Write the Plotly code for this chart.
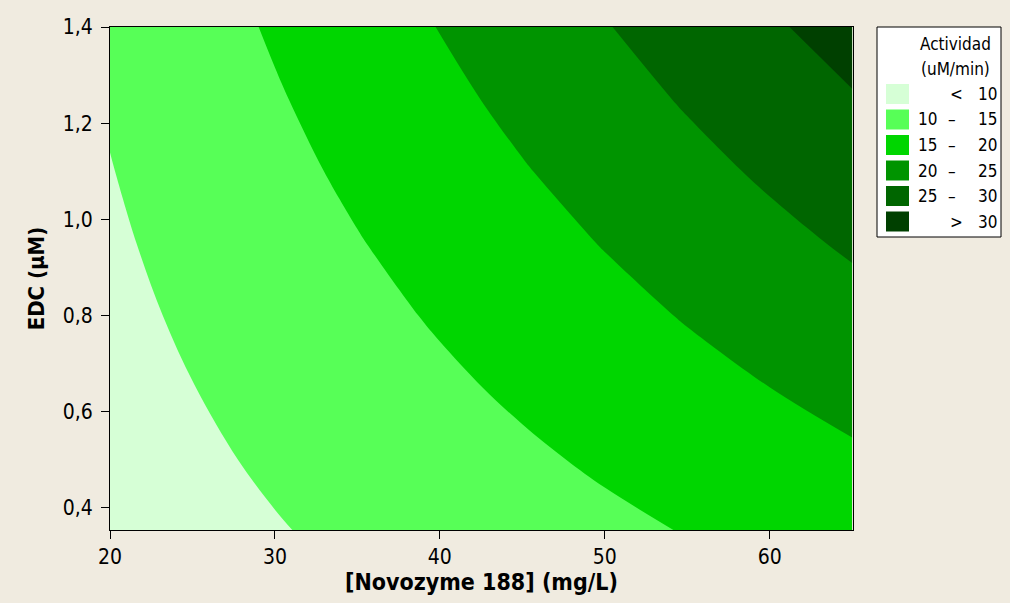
import plotly.graph_objects as go

# ---- data ----
novozyme = [20, 25, 30, 35, 40, 45, 50, 55, 60, 65]            # [Novozyme 188] (mg/L)
edc = [0.35, 0.5, 0.65, 0.8, 0.95, 1.1, 1.25, 1.4]              # EDC (uM)
actividad = [                                                   # Actividad (uM/min), rows = edc
    [7.59, 8.67, 9.75, 10.83, 11.90, 12.98, 14.06, 15.14, 16.22, 17.29],
    [8.05, 9.31, 10.56, 11.82, 13.08, 14.33, 15.59, 16.85, 18.11, 19.36],
    [8.51, 9.94, 11.38, 12.82, 14.25, 15.69, 17.12, 18.56, 19.99, 21.43],
    [8.97, 10.58, 12.20, 13.81, 15.42, 17.04, 18.65, 20.27, 21.88, 23.50],
    [9.42, 11.22, 13.01, 14.80, 16.60, 18.39, 20.18, 21.98, 23.77, 25.56],
    [9.88, 11.85, 13.83, 15.80, 17.77, 19.74, 21.72, 23.69, 25.66, 27.63],
    [10.34, 12.49, 14.64, 16.79, 18.94, 21.10, 23.25, 25.40, 27.55, 29.70],
    [10.80, 13.13, 15.46, 17.79, 20.12, 22.45, 24.78, 27.11, 29.44, 31.77],
]
contour_start, contour_end, contour_step = 10, 30, 5
band_colors = ["#D6FFD6", "#57FF57", "#00D600", "#009400", "#006600", "#004000"]
legend_low = ["", "10", "15", "20", "25", ""]
legend_sym = ["<", "\u2013", "\u2013", "\u2013", "\u2013", ">"]
legend_high = ["10", "15", "20", "25", "30", "30"]
x_ticks = [20, 30, 40, 50, 60]
y_ticks = [0.4, 0.6, 0.8, 1.0, 1.2, 1.4]

# ---- layout geometry ----
W, H = 1010, 603
ML, MR, MT, MB = 110, 157, 27, 73
PW, PH = W - ML - MR, H - MT - MB
BG = "#F0EBE0"
FONT = "Tahoma, 'DejaVu Sans Condensed', 'Liberation Sans', sans-serif"


def px(x):
    return (x - ML) / PW


def py(y):
    return (H - MB - y) / PH


n = len(band_colors)
colorscale = []
for i, c in enumerate(band_colors):
    colorscale.append([i / n, c])
    colorscale.append([(i + 1) / n, c])

fig = go.Figure(
    go.Contour(
        x=novozyme,
        y=edc,
        z=actividad,
        colorscale=colorscale,
        showscale=False,
        contours=dict(start=contour_start, end=contour_end, size=contour_step,
                      coloring="fill", showlines=False),
        line=dict(width=0),
        hoverinfo="x+y+z",
    )
)

LF = 17
shapes = [dict(type="rect", xref="paper", yref="paper",
               x0=px(877), x1=px(1001), y0=py(237), y1=py(27),
               fillcolor="white", line=dict(color="black", width=1))]
annotations = [
    dict(text="Actividad", x=px(955), y=py(44), xref="paper", yref="paper",
         showarrow=False, xanchor="center", yanchor="middle",
         font=dict(family=FONT, size=LF, color="black")),
    dict(text="(uM/min)", x=px(955), y=py(69), xref="paper", yref="paper",
         showarrow=False, xanchor="center", yanchor="middle",
         font=dict(family=FONT, size=LF, color="black")),
]
row0, pitch = 94, 25.5
for i, c in enumerate(band_colors):
    yc = row0 + i * pitch
    shapes.append(dict(type="rect", xref="paper", yref="paper",
                       x0=px(886), x1=px(909), y0=py(yc + 10), y1=py(yc - 10),
                       fillcolor=c, line=dict(width=0)))
    f = dict(family=FONT, size=LF, color="black")
    if legend_low[i]:
        annotations.append(dict(text=legend_low[i], x=px(939), y=py(yc), xref="paper", yref="paper",
                                showarrow=False, xanchor="right", yanchor="middle", font=f))
    annotations.append(dict(text=legend_sym[i], x=px(952 if legend_low[i] else 957), y=py(yc),
                            xref="paper", yref="paper", showarrow=False,
                            xanchor="center", yanchor="middle", font=f))
    annotations.append(dict(text=legend_high[i], x=px(999), y=py(yc), xref="paper", yref="paper",
                            showarrow=False, xanchor="right", yanchor="middle", font=f))

axis_common = dict(showline=True, linecolor="black", linewidth=1, mirror=True,
                   ticks="outside", ticklen=8, tickcolor="black", tickwidth=1,
                   showgrid=False, zeroline=False,
                   tickfont=dict(family=FONT, size=21, color="black"))

fig.update_layout(
    width=W, height=H,
    margin=dict(l=ML, r=MR, t=MT, b=MB, autoexpand=False),
    paper_bgcolor=BG, plot_bgcolor=BG,
    separators=",.",
    showlegend=False,
    xaxis=dict(range=[20, 65.05], tickvals=x_ticks, **axis_common,
               title=dict(text="<b>[Novozyme 188] (mg/L)</b>", standoff=5,
                          font=dict(family=FONT, size=23, color="black"))),
    yaxis=dict(range=[0.354, 1.4], tickvals=y_ticks, tickformat=".1f", **axis_common,
               ticklabelstandoff=4,
               title=dict(text="<b>EDC (µM)</b>", standoff=12,
                          font=dict(family=FONT, size=22, color="black"))),
    shapes=shapes,
    annotations=annotations,
)

fig.write_html("out.html", config={"displayModeBar": False},
               post_script="document.body.style.margin='0';")
